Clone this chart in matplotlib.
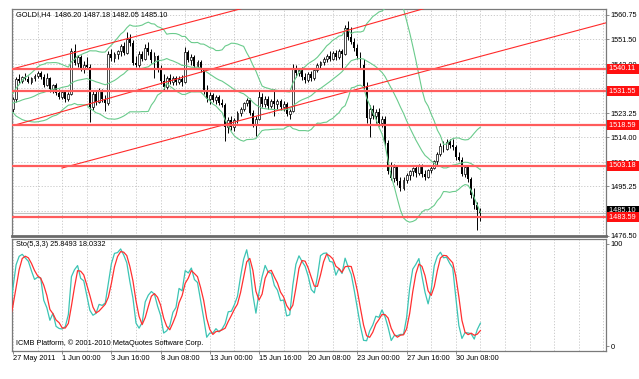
import numpy as np
import pandas as pd
import matplotlib
matplotlib.use("Agg")
import matplotlib.pyplot as plt
import matplotlib.transforms as mtransforms

plt.rcParams['font.family'] = ['Liberation Sans', 'DejaVu Sans']

# bars before the first visible one (only feed the indicators)
pre_o = [1528.8, 1529.4, 1530.2, 1528.6, 1527.2, 1528.8, 1530.0, 1529.1, 1527.5, 1526.0,
         1527.3, 1528.5, 1527.0, 1525.6, 1526.8, 1528.0, 1525.2, 1523.6, 1524.4, 1525.6]
pre_h = [1530.1, 1531.0, 1530.6, 1529.0, 1529.4, 1530.8, 1530.5, 1529.6, 1527.9, 1527.9,
         1529.2, 1528.9, 1527.5, 1527.4, 1528.6, 1528.4, 1525.8, 1525.0, 1526.2, 1526.0]
pre_l = [1528.2, 1528.9, 1528.0, 1526.6, 1526.8, 1528.4, 1528.6, 1527.0, 1525.4, 1525.5,
         1526.9, 1526.4, 1525.0, 1525.1, 1526.3, 1524.8, 1523.0, 1523.1, 1523.9, 1524.2]
pre_c = [1529.4, 1530.2, 1528.6, 1527.2, 1528.8, 1530.0, 1529.1, 1527.5, 1526.0, 1527.3,
         1528.5, 1527.0, 1525.6, 1526.8, 1528.0, 1525.2, 1523.6, 1524.4, 1525.6, 1524.8]

# GOLD H4, 27 May 2011 08:00 .. 1 Jul 2011 16:00
o = [1524.8, 1528.6, 1536.4, 1535.5, 1537.0, 1536.2, 1535.2, 1536.5, 1537.4, 1538.5,
     1537.0, 1534.0, 1536.5, 1532.6, 1533.8, 1531.0, 1529.5, 1531.3, 1528.8, 1530.6,
     1546.8, 1542.5, 1544.6, 1540.0, 1541.8, 1540.8, 1525.6, 1530.6, 1527.6, 1531.8,
     1528.5, 1527.0, 1545.8, 1544.2, 1545.8, 1546.9, 1548.7, 1546.2, 1551.5, 1550.2,
     1542.5, 1541.6, 1545.9, 1544.0, 1548.2, 1546.4, 1543.6, 1545.0, 1540.0, 1535.6,
     1533.2, 1536.6, 1535.0, 1536.8, 1535.2, 1536.4, 1535.1, 1546.5, 1543.6, 1544.8,
     1541.4, 1542.8, 1539.6, 1532.0, 1528.8, 1530.2, 1528.3, 1529.4, 1527.0, 1526.5,
     1518.0, 1520.5, 1517.8, 1520.6, 1523.2, 1524.8, 1527.0, 1528.4, 1523.2, 1519.2,
     1521.0, 1529.5, 1526.6, 1528.8, 1526.0, 1527.8, 1526.6, 1527.9, 1525.5, 1526.8,
     1523.0, 1524.0, 1540.5, 1538.4, 1539.8, 1537.0, 1536.0, 1538.2, 1536.5, 1539.8,
     1541.8, 1542.6, 1543.8, 1545.2, 1544.0, 1546.2, 1544.6, 1547.0, 1546.0, 1555.6,
     1552.2, 1550.4, 1548.0, 1545.2, 1541.5, 1533.5, 1521.5, 1524.8, 1522.0, 1523.8,
     1519.6, 1521.0, 1512.0, 1501.2, 1498.6, 1502.8, 1497.2, 1494.6, 1497.8, 1499.6,
     1501.0, 1502.2, 1500.4, 1503.2, 1500.0, 1499.0, 1501.6, 1502.4, 1504.8, 1507.6,
     1510.8, 1509.6, 1512.4, 1511.0, 1510.2, 1506.4, 1505.2, 1500.2, 1502.5, 1498.0,
     1492.0, 1488.0, 1486.2]
h = [1529.5, 1537.2, 1538.0, 1537.5, 1538.6, 1537.4, 1537.1, 1538.2, 1539.5, 1539.2,
     1538.0, 1538.4, 1537.0, 1534.5, 1534.6, 1532.5, 1532.2, 1531.8, 1531.5, 1548.0,
     1549.8, 1545.6, 1545.4, 1543.2, 1544.5, 1542.0, 1531.8, 1532.0, 1533.0, 1532.5,
     1530.2, 1547.0, 1547.6, 1546.5, 1547.5, 1549.6, 1550.5, 1554.2, 1553.5, 1551.0,
     1545.0, 1546.8, 1547.0, 1549.5, 1550.4, 1547.8, 1546.5, 1545.6, 1541.5, 1538.0,
     1537.4, 1538.0, 1537.5, 1537.6, 1537.3, 1537.8, 1548.5, 1547.4, 1545.8, 1545.5,
     1543.6, 1543.5, 1540.4, 1534.0, 1531.5, 1530.8, 1530.2, 1530.0, 1528.8, 1527.2,
     1521.6, 1522.0, 1521.5, 1524.0, 1525.5, 1527.6, 1529.0, 1529.2, 1524.6, 1522.0,
     1532.0, 1530.8, 1529.6, 1529.8, 1528.6, 1532.5, 1528.6, 1528.8, 1527.8, 1527.5,
     1524.8, 1542.0, 1541.8, 1540.5, 1541.0, 1538.4, 1539.0, 1539.2, 1540.6, 1542.5,
     1543.2, 1544.8, 1546.0, 1546.8, 1547.0, 1547.2, 1547.8, 1547.6, 1557.0, 1558.4,
     1556.0, 1552.0, 1549.8, 1546.4, 1543.8, 1535.0, 1526.5, 1526.2, 1525.0, 1525.2,
     1522.0, 1522.0, 1513.0, 1504.5, 1503.8, 1503.6, 1499.0, 1498.8, 1500.4, 1501.5,
     1502.6, 1503.0, 1503.8, 1503.8, 1501.5, 1502.0, 1503.0, 1505.5, 1508.5, 1511.8,
     1512.6, 1513.2, 1513.5, 1513.4, 1511.2, 1508.5, 1506.4, 1503.4, 1503.5, 1499.0,
     1494.5, 1489.5, 1487.18]
l = [1523.8, 1527.5, 1534.8, 1534.9, 1535.8, 1534.6, 1534.5, 1535.4, 1536.6, 1536.1,
     1533.2, 1533.5, 1531.5, 1531.0, 1530.2, 1528.6, 1528.8, 1527.6, 1528.0, 1530.0,
     1541.5, 1540.8, 1539.2, 1538.5, 1540.1, 1519.8, 1524.6, 1526.5, 1527.0, 1527.5,
     1524.2, 1526.2, 1543.2, 1542.6, 1543.8, 1545.2, 1545.4, 1545.8, 1549.0, 1541.5,
     1540.8, 1541.0, 1543.0, 1543.4, 1545.6, 1542.5, 1536.5, 1539.0, 1534.5, 1532.0,
     1532.6, 1534.2, 1533.8, 1534.0, 1534.5, 1533.5, 1534.8, 1542.8, 1541.6, 1540.5,
     1540.0, 1538.8, 1530.5, 1527.5, 1526.6, 1527.5, 1526.8, 1526.2, 1525.5, 1512.8,
     1515.6, 1516.8, 1516.5, 1519.5, 1522.0, 1524.0, 1525.8, 1522.5, 1518.0, 1514.4,
     1520.5, 1525.6, 1525.5, 1525.0, 1525.2, 1522.0, 1525.0, 1524.5, 1524.0, 1522.0,
     1521.0, 1523.6, 1537.0, 1537.5, 1536.0, 1534.8, 1535.2, 1535.5, 1536.0, 1539.0,
     1540.2, 1541.5, 1542.8, 1543.0, 1543.4, 1543.5, 1544.0, 1540.5, 1545.5, 1551.0,
     1549.5, 1546.8, 1544.0, 1540.5, 1532.6, 1519.6, 1514.0, 1521.0, 1519.5, 1518.4,
     1518.0, 1510.5, 1500.0, 1497.6, 1497.0, 1496.0, 1493.6, 1494.0, 1496.6, 1497.8,
     1499.4, 1499.0, 1499.8, 1499.0, 1497.6, 1498.4, 1500.5, 1501.8, 1503.5, 1506.8,
     1508.4, 1509.0, 1509.8, 1509.2, 1505.5, 1504.8, 1499.2, 1499.0, 1497.0, 1491.0,
     1486.5, 1478.6, 1482.05]
c = [1528.6, 1536.4, 1535.5, 1537.0, 1536.2, 1535.2, 1536.5, 1537.4, 1538.5, 1537.0,
     1534.0, 1536.5, 1532.6, 1533.8, 1531.0, 1529.5, 1531.3, 1528.8, 1530.6, 1546.8,
     1542.5, 1544.6, 1540.0, 1541.8, 1540.8, 1525.6, 1530.6, 1527.6, 1531.8, 1528.5,
     1527.0, 1545.8, 1544.2, 1545.8, 1546.9, 1548.7, 1546.2, 1551.5, 1550.2, 1542.5,
     1541.6, 1545.9, 1544.0, 1548.2, 1546.4, 1543.6, 1545.0, 1540.0, 1535.6, 1533.2,
     1536.6, 1535.0, 1536.8, 1535.2, 1536.4, 1535.1, 1546.5, 1543.6, 1544.8, 1541.4,
     1542.8, 1539.6, 1532.0, 1528.8, 1530.2, 1528.3, 1529.4, 1527.0, 1526.5, 1518.0,
     1520.5, 1517.8, 1520.6, 1523.2, 1524.8, 1527.0, 1528.4, 1523.2, 1519.2, 1521.0,
     1529.5, 1526.6, 1528.8, 1526.0, 1527.8, 1526.6, 1527.9, 1525.5, 1526.8, 1523.0,
     1524.0, 1540.5, 1538.4, 1539.8, 1537.0, 1536.0, 1538.2, 1536.5, 1539.8, 1541.8,
     1542.6, 1543.8, 1545.2, 1544.0, 1546.2, 1544.6, 1547.0, 1546.0, 1555.6, 1552.2,
     1550.4, 1548.0, 1545.2, 1541.5, 1533.5, 1521.5, 1524.8, 1522.0, 1523.8, 1519.6,
     1521.0, 1512.0, 1501.2, 1498.6, 1502.8, 1497.2, 1494.6, 1497.8, 1499.6, 1501.0,
     1502.2, 1500.4, 1503.2, 1500.0, 1499.0, 1501.6, 1502.4, 1504.8, 1507.6, 1510.8,
     1509.6, 1512.4, 1511.0, 1510.2, 1506.4, 1505.2, 1500.2, 1502.5, 1498.0, 1492.0,
     1488.0, 1486.2, 1485.1]

levels = [1540.11, 1531.55, 1518.59, 1503.18, 1483.59]
bid = 1485.10
# trend lines: (bar, price) -> (bar, price), drawn as rays
trends = [((-0.3, 1540.1), (73.8, 1563.0)),
          ((0.0, 1518.5), (132.0, 1562.6)),
          ((15.9, 1502.3), (192.8, 1557.7))]

price_ticks = [1560.75, 1551.50, 1542.00, 1532.75, 1523.25, 1514.00, 1504.50, 1495.25, 1485.75, 1476.50]
time_ticks = [0, 16, 32, 48, 64, 80, 96, 112, 128, 144]
time_labels = ['27 May 2011', '1 Jun 00:00', '3 Jun 16:00', '8 Jun 08:00', '13 Jun 00:00',
               '15 Jun 16:00', '20 Jun 08:00', '23 Jun 00:00', '27 Jun 16:00', '30 Jun 08:00']

O = np.array(pre_o + o)
H = np.array(pre_h + h)
L = np.array(pre_l + l)
C = np.array(pre_c + c)
x = np.arange(len(C)) - len(pre_c)

# Bollinger Bands(20, 2)
cs = pd.Series(C)
mid = cs.rolling(20).mean()
sd = cs.rolling(20).std(ddof=0)
bb_up = mid + 2 * sd
bb_dn = mid - 2 * sd

# Stochastic(5,3,3)
hh = pd.Series(H).rolling(5).max()
ll = pd.Series(L).rolling(5).min()
k = 100 * (cs - ll).rolling(3).sum() / (hh - ll).rolling(3).sum()
d = k.rolling(3).mean()

fs = 5.3
grid_col = '#c4c4c4'
frame_col = '#7a7a7a'
xmin, xmax = -0.33, 192.85

fig = plt.figure(figsize=(6.39, 3.79), dpi=100)
ax = fig.add_axes([12 / 639, 143 / 379, 594 / 639, 227 / 379])
ax2 = fig.add_axes([12 / 639, 28 / 379, 594 / 639, 112 / 379])

for a in (ax, ax2):
    a.set_xlim(xmin, xmax)
    for gx in range(0, 193, 8):
        a.axvline(gx, color=grid_col, lw=0.6, ls=(0, (1.5, 2)), zorder=0)
    for s in a.spines.values():
        s.set_color(frame_col)
        s.set_linewidth(0.9)

# main pane
ax.set_ylim(1476.35, 1563.0)
for py in price_ticks:
    ax.axhline(py, color=grid_col, lw=0.6, ls=(0, (1.5, 2)), zorder=0)
ax.axhline(bid, color='#c0c0c0', lw=0.8, zorder=1)

ax.vlines(x, L, H, color='black', lw=0.7, zorder=2)
up = C >= O
ax.bar(x[up], (C - O)[up], bottom=O[up], width=0.62, facecolor='white',
       edgecolor='black', lw=0.5, zorder=2)
ax.bar(x[~up], (O - C)[~up], bottom=C[~up], width=0.62, color='black', lw=0, zorder=2)

bb_col = '#6acb8c'
ax.plot(x, bb_up, color=bb_col, lw=0.8, zorder=3)
ax.plot(x, mid, color=bb_col, lw=0.8, zorder=3)
ax.plot(x, bb_dn, color=bb_col, lw=0.8, zorder=3)

for (x0, p0), (x1, p1) in trends:
    slope = (p1 - p0) / (x1 - x0)
    ax.plot([x0, xmax], [p0, p0 + slope * (xmax - x0)], color='#ff2a2a', lw=0.8, zorder=4)
for lv in levels:
    ax.axhline(lv, color='#ff5c5c', lw=1.6, zorder=4)

ax.yaxis.tick_right()
ax.set_yticks(price_ticks)
ax.set_yticklabels(['%.2f' % p for p in price_ticks])
ax.tick_params(axis='y', length=2, width=0.6, color=frame_col, labelsize=fs, pad=1.5)
ax.set_xticks([])
ax.spines['bottom'].set_linewidth(2.0)
ax.spines['bottom'].set_color('#6a6a6a')

tr = mtransforms.blended_transform_factory(ax.transAxes, ax.transData)
ax.text(1.005, bid + 0.8, '%.2f  ' % bid, transform=tr, color='white', fontsize=fs,
        va='center', ha='left', clip_on=False, zorder=6,
        bbox=dict(boxstyle='square,pad=0.2', fc='black', ec='none'))
for lv in levels:
    ax.text(1.005, lv, '%.2f  ' % lv, transform=tr, color='white', fontsize=fs, va='center',
            ha='left', clip_on=False, zorder=7,
            bbox=dict(boxstyle='square,pad=0.2', fc='#ff1010', ec='none'))

ax.text(0.006, 0.977, 'GOLD!,H4  1486.20 1487.18 1482.05 1485.10', transform=ax.transAxes,
        fontsize=fs, va='center', ha='left', color='black')

# stochastic pane
ax2.set_ylim(-4.9, 104.9)
ax2.plot(x, k, color='#3cc4b4', lw=0.9, zorder=3)
ax2.plot(x, d, color='#ff3030', lw=0.9, zorder=4)
ax2.yaxis.tick_right()
ax2.set_yticks([0, 100])
ax2.set_yticklabels(['0', '100'])
ax2.tick_params(axis='y', length=2, width=0.6, color=frame_col, labelsize=fs, pad=1.5)
ax2.set_xticks(time_ticks)
ax2.set_xticklabels(time_labels, ha='left')
ax2.tick_params(axis='x', length=2, width=0.6, color=frame_col, labelsize=fs, pad=1.0)

ax2.text(0.006, 0.955, 'Sto(5,3,3) 25.8493 18.0332', transform=ax2.transAxes,
         fontsize=fs, va='center', ha='left')
ax2.text(0.006, 0.071, 'ICMB Platform, \u00a9 2001-2010 MetaQuotes Software Corp.',
         transform=ax2.transAxes, fontsize=fs, va='center', ha='left')

fig.savefig('out.png', dpi=100)
